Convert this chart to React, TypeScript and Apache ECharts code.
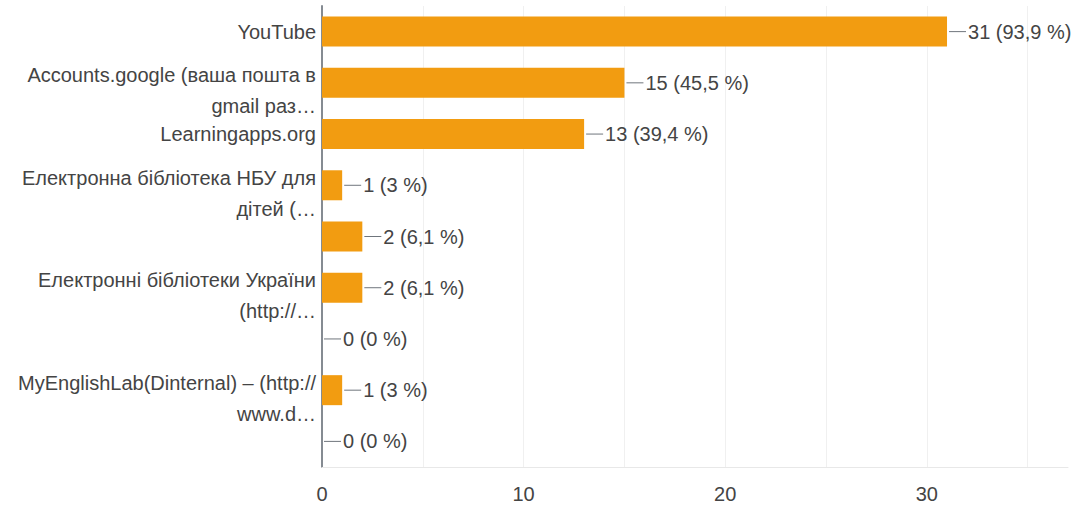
import React, { useEffect, useRef } from "react";
import * as echarts from "echarts";

const categories = [
  "YouTube",
  "Accounts.google (ваша пошта в\ngmail раз…",
  "Learningapps.org",
  "Електронна бібліотека НБУ для\nдітей (…",
  "",
  "Електронні бібліотеки України\n(http://…",
  "",
  "MyEnglishLab(Dinternal) – (http://\nwww.d…",
  "",
];
const counts = [31, 15, 13, 1, 2, 2, 0, 1, 0];
const percents = [93.9, 45.5, 39.4, 3, 6.1, 6.1, 0, 3, 0];
const xTickLabels = [0, 10, 20, 30];

const FONT = "'Liberation Sans', Arial, sans-serif";
const TEXT = "#444444";

export default function App() {
  const ref = useRef<HTMLDivElement>(null);
  useEffect(() => {
    if (!ref.current) return;
    const chart = echarts.init(ref.current, undefined, { renderer: "svg" });
    chart.setOption({
      animation: false,
      backgroundColor: "#ffffff",
      textStyle: { fontFamily: FONT },
      grid: { left: 322, right: 14, top: 6, bottom: 44, containLabel: false },
      xAxis: {
        type: "value",
        min: 0,
        max: 37,
        interval: 5,
        axisLine: { show: true, lineStyle: { color: "#e8e8e8", width: 1 } },
        axisTick: { show: false },
        splitLine: { show: true, showMaxLine: false, lineStyle: { color: "#f0f0f0", width: 1 } },
        axisLabel: {
          color: TEXT,
          fontSize: 20,
          fontFamily: FONT,
          margin: 17,
          showMaxLabel: false,
          formatter: (v: number) => (xTickLabels.indexOf(v) >= 0 ? String(v) : ""),
        },
      },
      yAxis: {
        type: "category",
        inverse: true,
        data: categories,
        axisLine: { show: true, lineStyle: { color: "#858b92", width: 2 } },
        axisTick: { show: false },
        splitLine: { show: false },
        axisLabel: {
          color: TEXT,
          fontSize: 20,
          fontFamily: FONT,
          margin: 6,
          interval: 0,
          formatter: (v: string) => {
            if (v.indexOf("\n") >= 0) {
              const parts = v.split("\n");
              return "{g| }\n{t|" + parts[0] + "}\n{t|" + parts[1] + "}";
            }
            return v;
          },
          rich: {
            g: { fontSize: 10, lineHeight: 16 },
            t: { fontSize: 20, lineHeight: 31, color: TEXT, fontFamily: FONT, align: "right" },
          },
        },
      },
      series: [
        {
          type: "bar",
          data: counts,
          barWidth: 30,
          itemStyle: { color: "#f29c11" },
          label: {
            show: true,
            position: "right",
            distance: 2,
            formatter: (p: any) => {
              const i = p.dataIndex;
              const pct = String(percents[i]).replace(".", ",");
              return "{l|}{v|" + counts[i] + " (" + pct + " %)}";
            },
            rich: {
              l: { width: 17, height: 1, backgroundColor: "#6f757c" },
              v: { fontSize: 20, color: TEXT, fontFamily: FONT, padding: [0, 0, 0, 2] },
            },
          },
        },
      ],
    });
    return () => chart.dispose();
  }, []);
  return (
    <div
      ref={ref}
      style={{ position: "fixed", left: 0, top: 0, width: 1082, height: 511 }}
    />
  );
}
